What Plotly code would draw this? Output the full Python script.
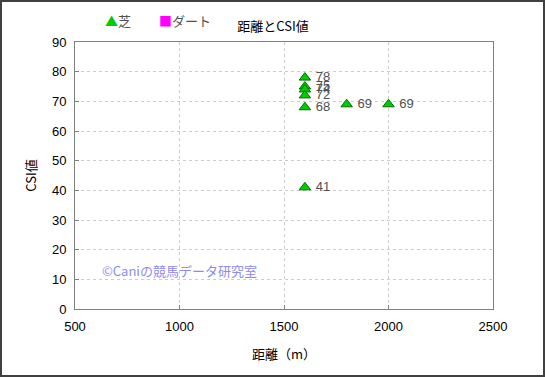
import plotly.graph_objects as go

# data
turf_dist = [1600, 1600, 1600, 1600, 1600, 1600, 1800, 2000]
turf_csi = [78, 75, 74, 72, 68, 41, 69, 69]
dirt_dist = []
dirt_csi = []
x_ticks = [500, 1000, 1500, 2000, 2500]
y_ticks = [0, 10, 20, 30, 40, 50, 60, 70, 80, 90]
series_names = ["芝", "ダート"]
series_colors = ["#00cc00", "#ff00ff"]

FONT = "Liberation Sans, Noto Sans CJK JP, sans-serif"

fig = go.Figure()
fig.add_trace(go.Scatter(
    x=turf_dist, y=turf_csi, mode="markers+text", name=series_names[0],
    text=[" " + str(v) for v in turf_csi], textposition="middle right",
    textfont=dict(size=13, color="#505050", family=FONT),
    marker=dict(symbol="triangle-up", size=10, color=series_colors[0],
                line=dict(color="#007000", width=1)),
    cliponaxis=False, showlegend=False,
))
fig.add_trace(go.Scatter(
    x=dirt_dist if dirt_dist else [None], y=dirt_csi if dirt_csi else [None],
    mode="markers", name=series_names[1],
    marker=dict(symbol="square", size=9, color=series_colors[1]),
    showlegend=False,
))

L, R, T, B = 75, 52, 42, 68
W, H = 545, 377
pw, ph = W - L - R, H - T - B

def px(xp):
    return (xp - L) / pw

def py(yp):
    return (H - B - yp) / ph

fig.update_layout(
    width=W, height=H,
    margin=dict(l=L, r=R, t=T, b=B, autoexpand=False),
    paper_bgcolor="white", plot_bgcolor="white",
    font=dict(family=FONT, size=12, color="#000000"),
    title=dict(text="距離とCSI値", x=273 / W, xanchor="center",
               y=1 - 26 / H, yanchor="middle",
               font=dict(size=13, color="#000000", family="Noto Sans CJK JP")),
    showlegend=False,
    xaxis=dict(range=[500, 2500], tickvals=x_ticks, ticks="inside", ticklen=4,
               tickcolor="#808080", showline=True, linecolor="#808080",
               linewidth=1, mirror=True, showgrid=True, gridcolor="#cccccc",
               griddash="dot", zeroline=False, ticklabelstandoff=5,
               title=dict(text="距離（m）", standoff=17,
                          font=dict(size=13, family="Noto Sans CJK JP")),
               tickfont=dict(size=13)),
    yaxis=dict(range=[0, 90], tickvals=y_ticks, ticks="inside", ticklen=4,
               tickcolor="#808080", showline=True, linecolor="#808080",
               linewidth=1, mirror=True, showgrid=True, gridcolor="#cccccc",
               griddash="dot", zeroline=False, ticklabelstandoff=5,
               title=dict(text="CSI値", standoff=12,
                          font=dict(size=13, family="Noto Sans CJK JP")),
               tickfont=dict(size=13)),
)

# legend drawn as annotations
legend_items = [(103, "▲", series_names[0], series_colors[0]),
                (157, "■", series_names[1], series_colors[1])]
for xpos, sym, name, col in legend_items:
    fig.add_annotation(
        text=f"<span style='color:{col}'>{sym}</span>{name}",
        xref="paper", yref="paper", x=px(xpos), y=py(20),
        xanchor="left", yanchor="middle", showarrow=False,
        font=dict(size=13, color="#505050", family="Noto Sans CJK JP"),
    )

fig.add_annotation(
    text="©Caniの競馬データ研究室", xref="paper", yref="paper",
    x=px(100), y=py(270), xanchor="left", yanchor="middle",
    showarrow=False, font=dict(size=13, color="#8c8cf0", family="Noto Sans CJK JP"),
)

fig.add_shape(type="rect", xref="paper", yref="paper",
              x0=px(1), x1=px(W - 1), y0=py(H - 1), y1=py(1),
              line=dict(color="#404040", width=2), layer="below")

fig.write_html("out.html", config={"displayModeBar": False},
               post_script="document.body.style.margin='0px';document.body.style.overflow='hidden';")
